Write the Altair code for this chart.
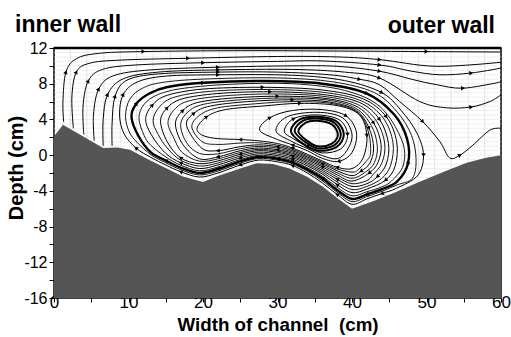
import math
import altair as alt
import pandas as pd

# ---------------- data ----------------
bed_x = [0, 1.2, 6.6, 8.5, 10.2, 12.8, 17.3, 20.0, 21.8, 25.0, 27.2, 29.4, 31.6, 33.9, 36.1, 38.0, 40.0, 43.0, 46.0, 49.0, 52.5, 55.4, 58.0, 60.0]
bed_y = [2.1, 3.4, 0.8, 0.85, 0.6, -0.55, -2.4, -3.0, -2.4, -1.5, -0.9, -1.0, -1.5, -2.4, -3.55, -4.8, -6.0, -5.1, -4.1, -3.0, -1.8, -0.85, -0.3, 0.0]

# open streamlines (rise at the inner wall, leave at the outer wall)
O1_x = [1.3, 1.2, 1.6, 3.0, 6, 12, 25, 40, 50, 60]
O1_y = [3.7, 6.0, 9.3, 10.8, 11.4, 11.6, 11.7, 11.65, 11.6, 11.55]
O2_x = [2.6, 2.4, 3.0, 4.8, 9, 18, 30, 38, 43.7, 51.3, 60]
O2_y = [3.0, 6.5, 9.3, 10.3, 10.65, 10.85, 11.05, 11.0, 10.7, 9.95, 10.4]
O3_x = [4.0, 3.9, 4.6, 6.5, 11, 20, 30, 36, 43.7, 48, 51.8, 56, 60]
O3_y = [2.3, 5.5, 8.3, 9.6, 10.1, 10.35, 10.5, 10.55, 10.1, 9.4, 9.0, 9.2, 9.75]
O4_x = [5.4, 5.3, 6.0, 8, 13, 22, 32, 38, 43.7, 48, 51.3, 54.9, 60]
O4_y = [1.6, 4.5, 7.4, 8.9, 9.55, 9.85, 10.0, 9.95, 9.4, 8.5, 7.9, 7.5, 8.2]
O5_x = [6.6, 6.6, 7.2, 9.3, 14, 22, 32, 39, 43.7, 49.1, 52.7, 56, 58.5, 60]
O5_y = [1.05, 4.0, 6.8, 8.55, 9.3, 9.55, 9.6, 9.3, 8.63, 6.0, 5.3, 5.4, 6.0, 6.75]
O6_x = [7.8, 7.8, 8.2, 9.8, 14, 22, 30, 37, 41, 43.7, 46.4, 49.5, 51.8, 53.1, 54.5, 56.2, 58.5, 60]
O6_y = [1.05, 3.6, 6.6, 8.4, 9.1, 9.3, 9.3, 9.0, 8.5, 7.88, 6.0, 3.75, 1.5, -0.3, 0.0, 1.1, 2.8, 3.0]

# closed streamlines of the recirculation cell (clockwise)
B1_x = [8.8, 9.3, 11.2, 15, 22, 32, 39, 44, 46.6, 48.7, 49.6, 48.8, 46, 44, 42, 40, 38, 36, 34, 32, 30, 27.5, 25, 22, 19.5, 17, 15, 13, 11, 9.4]
B1_y = [4.5, 6.8, 8.2, 8.85, 9.0, 8.95, 8.35, 7.0, 5.0, 2.5, 0.0, -2.3, -3.7, -4.3, -4.9, -5.5, -4.4, -3.1, -2.0, -1.15, -0.75, -0.55, -1.1, -2.0, -2.45, -1.85, -1.1, -0.25, 0.8, 2.4]
B1a_x = [9.6, 10.2, 12.0, 15.0, 21, 30, 37.5, 43, 46.1, 48.0, 48.6, 48.1, 46, 44, 42, 40, 38, 36, 34, 32, 30, 27.5, 25, 22, 19.5, 17, 15, 13, 11.2, 10.1]
B1a_y = [4.4, 6.3, 7.55, 8.2, 8.55, 8.65, 8.2, 7.0, 4.8, 2.2, -0.5, -2.6, -3.35, -4.05, -4.65, -5.2, -4.15, -2.85, -1.8, -0.97, -0.57, -0.37, -0.9, -1.78, -2.22, -1.62, -0.85, 0.05, 1.4, 2.6]
B2_x = [10.4, 11.1, 12.8, 15.1, 20, 28, 36, 42, 45.6, 47.4, 47.5, 46, 44, 42, 40, 38, 36, 34, 32, 30, 27.5, 25, 22, 19.5, 17, 15, 13, 11.3]
B2_y = [4.3, 5.8, 6.9, 7.6, 8.1, 8.3, 8.0, 6.9, 4.6, 1.8, -1.0, -3.0, -3.8, -4.4, -4.9, -3.9, -2.6, -1.6, -0.8, -0.4, -0.2, -0.7, -1.55, -2.0, -1.4, -0.6, 0.3, 2.2]
B2a_x = [11.4, 12.1, 14.0, 17.5, 24, 32, 39, 43.8, 46.7, 46.9, 45.3, 44, 42, 40, 38, 36, 34, 32, 30, 27.5, 25, 22, 19.5, 17, 15, 13, 12.1]
B2a_y = [4.15, 5.7, 6.8, 7.5, 7.95, 8.0, 7.25, 5.4, 1.65, -1.1, -2.9, -3.55, -4.1, -4.55, -3.6, -2.35, -1.4, -0.62, -0.22, -0.02, -0.5, -1.33, -1.75, -1.12, -0.2, 1.1, 2.2]
B3_x = [12.3, 13.2, 15.2, 20, 28, 36, 41.5, 44.6, 46.0, 45.8, 44.5, 42, 40, 38, 36, 34, 32, 30, 27.5, 25, 22, 19.5, 17, 15, 13.2]
B3_y = [4.0, 5.6, 6.7, 7.4, 7.6, 7.3, 6.3, 4.3, 1.5, -1.2, -2.8, -3.8, -4.2, -3.3, -2.1, -1.2, -0.45, -0.05, 0.15, -0.3, -1.1, -1.5, -0.85, 0.2, 2.1]
B3a_x = [13.3, 14.2, 16.2, 21, 28.5, 36, 41.2, 44.2, 45.5, 45.2, 44.0, 42, 40, 38, 36, 34, 32, 30, 27.5, 25, 22, 19.5, 17, 15.2, 14.0]
B3a_y = [3.9, 5.45, 6.5, 7.15, 7.35, 7.05, 6.1, 4.15, 1.4, -1.1, -2.6, -3.5, -3.85, -3.0, -1.9, -1.02, -0.27, 0.12, 0.33, -0.1, -0.88, -1.22, -0.57, 0.8, 2.3]
B4_x = [14.3, 15.2, 17.2, 22, 29, 36, 41, 43.7, 44.9, 44.6, 43.4, 42, 40, 38, 36, 34, 32, 30, 27.5, 25, 22, 19.5, 17, 15.2]
B4_y = [3.8, 5.3, 6.3, 6.9, 7.1, 6.8, 5.9, 4.0, 1.3, -1.0, -2.4, -3.2, -3.5, -2.7, -1.7, -0.85, -0.1, 0.3, 0.5, 0.1, -0.65, -0.95, -0.3, 1.5]
B4a_x = [15.3, 16.2, 18.2, 23, 29.5, 36, 40.7, 43.3, 44.4, 44.0, 42.8, 42, 40, 38, 36, 34, 32, 30, 27.5, 25, 22, 19.5, 17.2, 16.1]
B4a_y = [3.65, 5.15, 6.1, 6.65, 6.85, 6.6, 5.7, 3.8, 1.25, -0.9, -2.2, -2.85, -3.2, -2.45, -1.5, -0.67, 0.05, 0.45, 0.65, 0.3, -0.42, -0.67, 0.3, 1.9]
B5_x = [16.3, 17.3, 19.3, 24, 30, 36, 40.5, 42.9, 43.9, 43.5, 42.3, 40, 38, 36, 34, 32, 30, 27.5, 25, 22, 19.5, 17.3]
B5_y = [3.5, 5.0, 5.9, 6.4, 6.6, 6.4, 5.5, 3.6, 1.2, -0.8, -2.0, -2.9, -2.2, -1.3, -0.5, 0.2, 0.6, 0.8, 0.5, -0.2, -0.4, 1.2]
B5a_x = [17.0, 18.0, 20.1, 25, 31, 36.5, 40.5, 42.6, 43.4, 43.0, 41.8, 40, 38, 36, 34, 32, 30, 27.5, 25, 22, 19.5, 17.8]
B5a_y = [3.4, 4.85, 5.7, 6.2, 6.4, 6.2, 5.25, 3.3, 1.0, -0.85, -1.9, -2.6, -1.97, -1.12, -0.35, 0.35, 0.78, 0.98, 0.72, 0.15, 0.2, 1.4]
B6_x = [17.8, 18.8, 21, 26, 32, 37, 40.6, 42.3, 42.9, 42.4, 41.2, 40, 38, 36, 34, 32, 30, 27.5, 25, 22, 19.8]
B6_y = [3.3, 4.7, 5.5, 6.0, 6.2, 5.95, 5.0, 3.0, 0.8, -0.9, -1.8, -2.3, -1.75, -0.95, -0.2, 0.5, 0.95, 1.15, 0.95, 0.5, 0.8]
K2_x = [18.5, 19.6, 22, 27, 32.5, 37.5, 40.8, 42.2, 42.5, 42.0, 40.8, 40, 38, 36, 34, 32, 30, 27.5, 25, 22, 19.9]
K2_y = [3.15, 4.5, 5.3, 5.75, 6.0, 5.75, 4.75, 2.6, 0.25, -0.6, -1.65, -1.9, -1.55, -0.8, -0.05, 0.65, 1.12, 1.38, 1.35, 1.2, 1.5]
K_x = [19.2, 20.5, 23, 28, 33, 38, 41.0, 42.0, 41.5, 40, 38, 36, 34, 32, 30, 27.5, 25, 22, 20]
K_y = [3.0, 4.3, 5.1, 5.5, 5.8, 5.55, 4.5, 2.2, -0.3, -1.5, -1.35, -0.65, 0.1, 0.8, 1.3, 1.6, 1.75, 1.85, 2.2]
M3_x = [27.6, 29, 32, 36, 39.2, 40.6, 40.0, 38.2, 36, 34, 32, 30]
M3_y = [2.8, 4.2, 5.0, 5.1, 4.4, 2.5, 0.3, -0.7, -0.35, 0.5, 1.15, 1.75]
M2_x = [29.8, 31.3, 35.3, 38.7, 40.0, 39.3, 38, 36, 34, 32]
M2_y = [2.7, 4.3, 4.8, 4.2, 2.3, 0.5, -0.4, -0.05, 0.75, 1.5]
M1_x = [30.9, 32.2, 35.3, 38.3, 39.4, 38.5, 36, 34, 32.2]
M1_y = [2.7, 4.1, 4.5, 3.95, 2.3, 0.7, 0.25, 1.0, 1.8]
C3_x = [31.8, 33.0, 35.3, 37.9, 38.9, 37.9, 35.4, 33.2]
C3_y = [2.7, 4.0, 4.3, 3.8, 2.3, 0.9, 0.5, 1.4]
C2_x = [32.3, 33.4, 35.3, 37.6, 38.5, 37.6, 35.4, 33.6]
C2_y = [2.7, 3.85, 4.1, 3.65, 2.3, 1.1, 0.75, 1.55]
C1_x = [32.8, 33.8, 35.3, 37.3, 38.1, 37.3, 35.4, 34.0]
C1_y = [2.65, 3.65, 3.85, 3.45, 2.3, 1.3, 1.0, 1.6]

# faint background texture of the vector field
hatch_x = [2.2, 4.4, 6.7, 8.9, 11.1, 13.3, 15.6, 17.8, 20.0, 22.2, 24.4, 26.7, 28.9, 31.1, 33.3, 35.6, 37.8, 40.0, 42.2, 44.4, 46.7, 48.9, 51.1, 53.3, 55.6, 57.8]
hatch_y = [-6, -5.5, -5, -4.5, -4, -3.5, -3, -2.5, -2, -1.5, -1, -0.5, 0, 0.5, 1, 1.5, 2, 2.5, 3, 3.5, 4, 4.5, 5, 5.5, 6, 6.5, 7, 7.5, 8, 8.5, 9, 9.5, 10, 10.5, 11, 11.5]

x_ticks = [0, 5, 10, 15, 20, 25, 30, 35, 40, 45, 50, 55, 60]
y_ticks = [-16, -14, -12, -10, -8, -6, -4, -2, 0, 2, 4, 6, 8, 10, 12]

open_lines = [("O1", O1_x, O1_y), ("O2", O2_x, O2_y), ("O3", O3_x, O3_y),
              ("O4", O4_x, O4_y), ("O5", O5_x, O5_y), ("O6", O6_x, O6_y)]
closed_lines = [("B1", B1_x, B1_y, 1.0), ("B1a", B1a_x, B1a_y, 0.9), ("B2", B2_x, B2_y, 2.4),
                ("B2a", B2a_x, B2a_y, 0.9), ("B3", B3_x, B3_y, 1.0), ("B3a", B3a_x, B3a_y, 0.9),
                ("B4", B4_x, B4_y, 1.0), ("B4a", B4a_x, B4a_y, 0.9), ("B5", B5_x, B5_y, 1.0),
                ("B5a", B5a_x, B5a_y, 0.9), ("B6", B6_x, B6_y, 1.0), ("K2", K2_x, K2_y, 0.9),
                ("K", K_x, K_y, 1.0), ("M3", M3_x, M3_y, 1.0), ("M2", M2_x, M2_y, 1.0),
                ("M1", M1_x, M1_y, 1.0), ("C3", C3_x, C3_y, 2.0), ("C2", C2_x, C2_y, 2.0),
                ("C1", C1_x, C1_y, 2.0)]
arrow_lines = {"O1", "O2", "O3", "O4", "O5", "O6", "B1", "B2", "B3", "B4", "B5", "B6", "K", "M3", "M1"}

W, H = 447, 250
SX, SY = W / 60.0, H / 28.0

open_rows, closed_rows, arrow_rows = [], [], []


def add_arrows(name, xs, ys, closed):
    if name not in arrow_lines:
        return
    n = len(xs)
    idx = range(1, n, 3) if closed else range(2, n - 1, 3)
    for i in idx:
        p = (i - 1) % n
        q = (i + 1) % n
        dx = (xs[q] - xs[p]) * SX
        dy = (ys[q] - ys[p]) * SY
        ang = math.degrees(math.atan2(dx, dy)) % 360
        arrow_rows.append({"line": name, "x": xs[i], "y": ys[i], "ang": ang})


for name, xs, ys in open_lines:
    for i, (a, b) in enumerate(zip(xs, ys)):
        open_rows.append({"line": name, "i": i, "x": a, "y": b, "w": 1.0})
    add_arrows(name, xs, ys, False)

for name, xs, ys, w in closed_lines:
    for i, (a, b) in enumerate(zip(xs, ys)):
        closed_rows.append({"line": name, "i": i, "x": a, "y": b, "w": w})
    add_arrows(name, xs, ys, True)

df_open = pd.DataFrame(open_rows)
df_closed = pd.DataFrame(closed_rows)
df_arrow = pd.DataFrame(arrow_rows)
df_bed = pd.DataFrame({"x": bed_x, "y": bed_y, "y0": [-16] * len(bed_x)})
df_hx = pd.DataFrame({"x": hatch_x})
df_hy = pd.DataFrame({"y": hatch_y})

FONT = "Liberation Sans"

x_axis = alt.Axis(values=x_ticks, labelExpr="datum.value % 10 === 0 ? '' + datum.value : ''",
                  tickSize=4, labelPadding=5, labelBaseline="alphabetic", labelFlush=False,
                  labelFontSize=17, labelFont=FONT, labelColor="black",
                  tickColor="black", domain=False, grid=False,
                  title="Width of channel\u00a0 (cm)", titleFont=FONT, titleFontSize=18.8,
                  titleFontWeight="bold", titleColor="black", titleX=223.5, titleY=32,
                  titleBaseline="alphabetic", titleAlign="center")
y_axis = alt.Axis(values=y_ticks, labelExpr="datum.value % 4 === 0 ? '' + datum.value : ''",
                  tickSize=5, labelPadding=2, labelFontSize=16, labelFont=FONT, labelFlush=False,
                  labelColor="black", tickColor="black", domain=False, grid=False,
                  title="Depth (cm)", titleFont=FONT, titleFontSize=20, titleFontWeight="bold",
                  titleColor="black", titleX=-31.5, titleY=119.5, titleAngle=270,
                  titleBaseline="alphabetic", titleAlign="center")

xs = alt.Scale(domain=[0, 60], nice=False, zero=False)
ys = alt.Scale(domain=[-16, 12], nice=False, zero=False)
X = alt.X("x:Q", scale=xs, axis=x_axis)
Y = alt.Y("y:Q", scale=ys, axis=y_axis)

hatch_v = alt.Chart(df_hx).mark_rule(color="#d4d4d4", strokeWidth=0.6).encode(x=X)
hatch_h = alt.Chart(df_hy).mark_rule(color="#e4e4e4", strokeWidth=0.6).encode(y=Y)

closed = alt.Chart(df_closed).mark_line(interpolate="cardinal-closed", color="black", clip=True).encode(
    x=X, y=Y, order=alt.Order("i:Q"), detail="line:N",
    strokeWidth=alt.StrokeWidth("w:Q", scale=None))
opened = alt.Chart(df_open).mark_line(interpolate="cardinal", color="black", clip=True).encode(
    x=X, y=Y, order=alt.Order("i:Q"), detail="line:N",
    strokeWidth=alt.StrokeWidth("w:Q", scale=None))
arrows = alt.Chart(df_arrow).mark_point(shape="triangle-up", filled=True, color="black",
                                        size=20, opacity=1).encode(
    x=X, y=Y, angle=alt.Angle("ang:Q", scale=None))
bed = alt.Chart(df_bed).mark_area(color="#555555", opacity=1).encode(
    x=X, y=Y, y2="y0:Q")
top_edge = alt.Chart(pd.DataFrame({"k": [0]})).mark_rule(color="black", strokeWidth=2.5).encode(
    y=alt.value(0))

t1 = alt.Chart(pd.DataFrame({"t": ["inner wall"]})).mark_text(
    align="left", baseline="alphabetic", font=FONT, fontSize=23, fontWeight="bold",
    color="black").encode(x=alt.value(-39), y=alt.value(-16), text="t:N")
t2 = alt.Chart(pd.DataFrame({"t": ["outer wall"]})).mark_text(
    align="right", baseline="alphabetic", font=FONT, fontSize=23, fontWeight="bold",
    color="black").encode(x=alt.value(441), y=alt.value(-15), text="t:N")

chart = alt.layer(hatch_h, hatch_v, closed, opened, arrows, bed, top_edge, t1, t2).properties(
    width=W, height=H,
    autosize=alt.AutoSizeParams(type="none"),
    padding={"left": 54, "top": 48, "right": 10, "bottom": 39},
    background="white",
).configure_view(stroke="black", strokeWidth=1.5)

chart.save("out.html", embed_options={"renderer": "svg", "actions": False})
